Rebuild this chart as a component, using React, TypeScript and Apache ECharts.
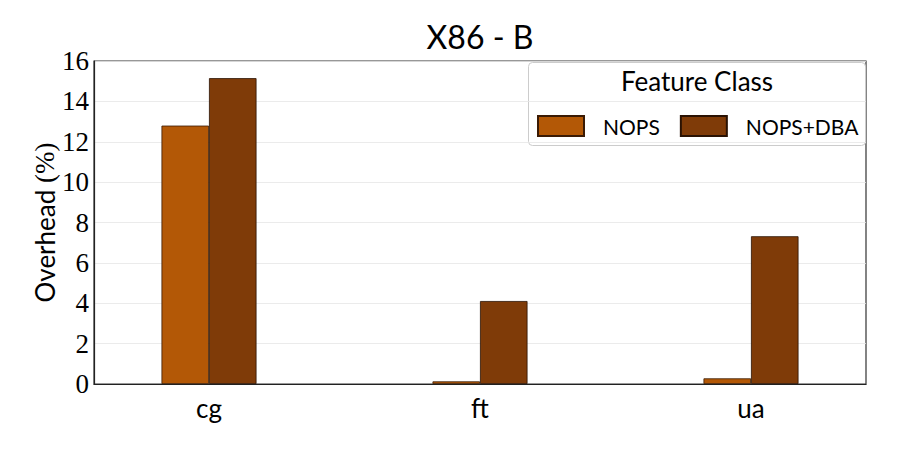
import React, { useEffect, useRef } from "react";
import * as echarts from "echarts";

const categories = ["cg", "ft", "ua"];
const nopsValues = [12.8, 0.13, 0.28];
const nopsDbaValues = [15.15, 4.11, 7.32];
const seriesNames = ["NOPS", "NOPS+DBA"];
const yTicks = { min: 0, max: 16, interval: 2 };

const SANS = "Lato, 'Noto Sans', sans-serif";
const SERIF = "'Liberation Serif', 'DejaVu Serif', serif";

export default function App() {
  const ref = useRef<HTMLDivElement>(null);
  useEffect(() => {
    if (!ref.current) return;
    const chart = echarts.init(ref.current, undefined, { renderer: "svg" });
    const plotLeft = 94, plotRight = 866, plotTop = 61, plotBottom = 384;
    const band = 271;
    const barsLeft = 209 - band / 2;
    chart.setOption({
      animation: false,
      backgroundColor: "#ffffff",
      title: {
        text: "X86 - B",
        left: (plotLeft + plotRight) / 2,
        textAlign: "center",
        top: 20,
        padding: 0,
        textStyle: { fontFamily: SANS, fontSize: 32, fontWeight: "normal", color: "#000" },
      },
      grid: [
        {
          left: plotLeft,
          top: plotTop,
          width: plotRight - plotLeft,
          height: plotBottom - plotTop,
          show: true,
          borderColor: "#333",
          borderWidth: 1.2,
          backgroundColor: "transparent",
        },
        {
          left: barsLeft,
          top: plotTop,
          width: band * categories.length,
          height: plotBottom - plotTop,
        },
      ],
      xAxis: [
        {
          gridIndex: 0,
          type: "category",
          data: categories,
          axisLine: { show: true, lineStyle: { color: "#222", width: 1.2 } },
          axisTick: { show: false },
          axisLabel: { show: false },
        },
        {
          gridIndex: 1,
          type: "category",
          data: categories,
          axisLine: { show: false },
          axisTick: { show: false },
          axisLabel: { fontFamily: SANS, fontSize: 26, color: "#000", margin: 11 },
        },
      ],
      yAxis: [
        {
          gridIndex: 0,
          type: "value",
          min: yTicks.min,
          max: yTicks.max,
          interval: yTicks.interval,
          name: "{s|Overhead }{m|(%)}",
          nameLocation: "middle",
          nameGap: 36,
          nameMoveOverlap: false,
          nameTextStyle: {
            rich: {
              s: { fontFamily: SANS, fontSize: 26, color: "#000" },
              m: { fontFamily: SERIF, fontSize: 27, color: "#000" },
            },
          },
          axisLine: { show: true, lineStyle: { color: "#222", width: 1.2 } },
          axisTick: { show: false },
          axisLabel: { fontFamily: SERIF, fontSize: 27, color: "#000", margin: 5 },
          splitLine: { show: true, lineStyle: { color: "#e6e6e6", width: 0.8 } },
        },
        {
          gridIndex: 1,
          type: "value",
          min: yTicks.min,
          max: yTicks.max,
          interval: yTicks.interval,
          show: false,
          splitLine: { show: false },
        },
      ],
      legend: {
        data: seriesNames,
        left: 537,
        top: 115,
        padding: 0,
        itemWidth: 46,
        itemHeight: 20,
        itemGap: 20,
        icon: "rect",
        textStyle: { fontFamily: SANS, fontSize: 21, color: "#000", padding: [0, 0, 0, 14] },
      },
      graphic: [
        {
          type: "rect",
          shape: { x: 528.5, y: 62.5, width: 337, height: 83, r: 4 },
          style: { fill: "rgba(255,255,255,0.85)", stroke: "#cccccc", lineWidth: 1 },
          z: 0,
          zlevel: 0,
        },
        {
          type: "text",
          x: 697,
          y: 81,
          style: {
            text: "Feature Class",
            fontFamily: SANS,
            fontSize: 26,
            fill: "#000",
            textAlign: "center",
            textVerticalAlign: "middle",
          },
        },
      ],
      series: [
        {
          name: seriesNames[0],
          type: "bar",
          xAxisIndex: 1,
          yAxisIndex: 1,
          data: nopsValues,
          barWidth: 47.5,
          barGap: "0%",
          itemStyle: { color: "#b35806", borderColor: "#3a1a04", borderWidth: 0.8 },
        },
        {
          name: seriesNames[1],
          type: "bar",
          xAxisIndex: 1,
          yAxisIndex: 1,
          data: nopsDbaValues,
          barWidth: 47.5,
          barGap: "0%",
          itemStyle: { color: "#7f3b08", borderColor: "#2a1203", borderWidth: 0.8 },
        },
      ],
    });
    return () => chart.dispose();
  }, []);
  return <div ref={ref} style={{ width: 897, height: 449, margin: -8 }} />;
}
